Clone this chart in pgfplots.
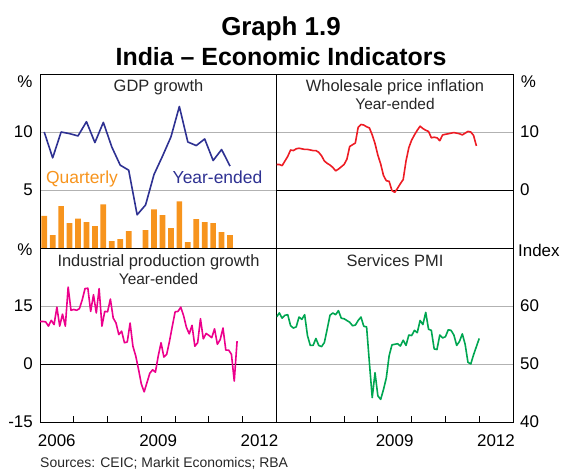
\documentclass[border=0pt]{standalone}
\usepackage{pgfplots}
\pgfplotsset{compat=1.18}
\usepackage{pgfplotstable}
\usepackage{fontspec}
\setmainfont{Liberation Sans}
\definecolor{gdpblue}{HTML}{2E3192}
\definecolor{qorange}{HTML}{F7941D}
\definecolor{wpired}{HTML}{ED1C24}
\definecolor{ipmag}{HTML}{EC008C}
\definecolor{pmigreen}{HTML}{00A651}

\pgfplotstableread{
v
4.4
4.4
4.2
5.0
5.8
6.9
6.8
7.1
7.2
7.1
7.0
7.0
6.9
6.8
6.8
6.5
5.9
5.0
4.6
4.3
3.9
3.3
3.6
4.0
4.4
5.3
7.5
7.8
8.1
10.8
11.3
11.2
10.9
10.7
9.5
8.0
6.0
4.5
2.5
1.6
1.5
-0.1
-0.4
0.3
1.1
1.8
5.0
7.3
8.6
9.5
10.3
11.0
10.6
10.3
10.1
9.0
9.1
9.0
8.5
9.5
9.6
9.7
9.8
9.9
9.8
9.7
9.5
9.8
10.1
10.0
9.4
7.6
}\wpi

\pgfplotstableread{
v
11.0
11.0
10.9
9.8
11.3
10.2
14.7
9.8
12.9
9.8
19.9
13.9
14.1
13.9
14.3
16.6
19.5
19.6
13.6
17.9
13.2
19.5
9.8
13.6
13.5
16.8
11.9
10.6
7.6
8.5
5.5
5.7
10.6
4.6
2.1
-1.4
-5.2
-7.2
-4.8
-2.4
-1.5
-2.1
2.1
5.5
1.8
2.5
5.9
9.8
13.5
13.6
14.7
12.5
9.5
7.8
10.0
4.6
5.5
11.7
6.5
7.9
7.4
6.8
9.1
5.1
6.3
9.3
3.6
3.6
2.5
-4.4
5.9
}\indprod

\pgfplotstableread{
v
58.1
58.8
57.9
58.4
58.5
56.6
56.2
56.4
58.1
57.7
58.5
54.9
53.2
53.2
54.4
53.2
53.0
53.7
56.0
58.4
58.8
58.5
59.2
57.9
57.8
57.5
57.2
56.6
56.7
57.5
58.1
56.5
56.4
50.2
44.2
48.5
44.5
43.9
45.6
47.6
51.4
53.3
53.4
53.5
53.1
54.1
53.2
55.0
54.9
55.8
55.4
57.5
56.8
58.9
56.0
55.8
52.6
52.5
55.0
54.5
54.7
55.9
55.8
55.0
53.2
53.9
55.2
53.4
50.3
50.0
51.6
53.0
54.4
}\pmi

\pgfplotsset{
  panel/.style={
    scale only axis, width=236.5bp, height=174bp,
    xmin=2006, xmax=2013,
    axis line style={black, line width=0.8bp},
    ymajorgrids, grid style={black!30, line width=0.8bp},
    tick label style={font=\fontsize{17}{17}\selectfont},
    major tick length=0pt,
    extra y tick style={grid style={black, line width=0.8bp}},
    clip=true, unbounded coords=jump,
  },
  leftlab/.style={yticklabel pos=left, yticklabel style={anchor=east, inner sep=0pt, xshift=-7bp}},
  rightlab/.style={yticklabel pos=right, yticklabel style={anchor=west, inner sep=0pt, xshift=7bp}},
  topx/.style={xtick=\empty},
  bottomx/.style={
    xtick={2007,2008,2009,2010,2011,2012,2013}, xtick pos=left,
    x tick label style={anchor=base, yshift=-24bp, xshift=-17bp},
  },
  line/.style={line width=1.6bp, line join=round},
  tickmark/.style={black, line width=0.9bp, forget plot},
}

\begin{document}
\begin{tikzpicture}
\path[use as bounding box] (0,0) rectangle (562bp,-470bp);

% Top-left: GDP growth
\begin{axis}[panel, leftlab, topx, at={(40bp,-74bp)}, anchor=north west,
  ymin=0, ymax=15, ytick={5,10}, yticklabels={5,10}]
\addplot[ybar, bar width=5.7bp, fill=qorange, draw=none] coordinates {
(2006.125,2.77) (2006.375,1.11) (2006.625,3.60) (2006.875,2.14)
(2007.125,2.54) (2007.375,2.23) (2007.625,1.89) (2007.875,3.77)
(2008.125,0.60) (2008.375,0.77) (2008.625,1.46) (2008.875,0.00)
(2009.125,1.54) (2009.375,3.34) (2009.625,2.83) (2009.875,1.71)
(2010.125,4.03) (2010.375,0.51) (2010.625,2.49) (2010.875,2.23)
(2011.125,2.14) (2011.375,1.37) (2011.625,1.11)};
\addplot[line, gdpblue] coordinates {
(2006.125,10.0) (2006.375,7.77) (2006.625,10.0) (2006.875,9.86)
(2007.125,9.66) (2007.375,10.89) (2007.625,9.09) (2007.875,10.83)
(2008.125,8.71) (2008.375,7.14) (2008.625,6.71) (2008.875,2.86)
(2009.125,3.71) (2009.375,6.34) (2009.625,7.91) (2009.875,9.57)
(2010.125,12.2) (2010.375,9.14) (2010.625,8.83) (2010.875,9.40)
(2011.125,7.54) (2011.375,8.49) (2011.625,7.06)};
\end{axis}

% Top-right: WPI
\begin{axis}[panel, rightlab, topx, at={(276.5bp,-74bp)}, anchor=north west,
  ymin=-10, ymax=20, ytick={10}, yticklabels={10},
  extra y ticks={0}, extra y tick labels={0}]
\addplot[line, wpired] table[x expr={2006+\coordindex/12}, y=v] {\wpi};
\end{axis}

% Bottom-left: Industrial production
\begin{axis}[panel, leftlab, bottomx, at={(40bp,-248bp)}, anchor=north west,
  xticklabels={2006,,,2009,,,2012},
  ymin=-15, ymax=30, ytick={-15,15}, yticklabels={-15,15},
  extra y ticks={0}, extra y tick labels={0}]
\addplot[tickmark] coordinates {
(2007,-15) (2007,-13.45) (2007,nan)
(2008,-15) (2008,-13.45) (2008,nan)
(2009,-15) (2009,-13.45) (2009,nan)
(2010,-15) (2010,-13.45) (2010,nan)
(2011,-15) (2011,-13.45) (2011,nan)
(2012,-15) (2012,-13.45)};
\addplot[line, ipmag] table[x expr={2006+\coordindex/12}, y=v] {\indprod};
\end{axis}

% Bottom-right: Services PMI
\begin{axis}[panel, rightlab, bottomx, at={(276.5bp,-248bp)}, anchor=north west,
  xticklabels={,,,2009,,,2012},
  ymin=40, ymax=70, ytick={40,50,60}, yticklabels={40,50,60}]
\addplot[tickmark] coordinates {
(2007,40) (2007,41.03) (2007,nan)
(2008,40) (2008,41.03) (2008,nan)
(2009,40) (2009,41.03) (2009,nan)
(2010,40) (2010,41.03) (2010,nan)
(2011,40) (2011,41.03) (2011,nan)
(2012,40) (2012,41.03)};
\addplot[line, pmigreen] table[x expr={2006+\coordindex/12}, y=v] {\pmi};
\end{axis}

% Titles
\node[anchor=base, font=\fontsize{26}{26}\selectfont\bfseries] at (281bp,-35bp) {Graph 1.9};
\node[anchor=base, font=\fontsize{25}{25}\selectfont\bfseries] at (281bp,-65bp) {India – Economic Indicators};

% Panel titles
\node[anchor=base, font=\fontsize{16.5}{16.5}\selectfont, text=black!85] at (158.5bp,-91.7bp) {GDP growth};
\node[anchor=base, font=\fontsize{16.5}{16.5}\selectfont, text=black!85] at (395bp,-91.7bp) {Wholesale price inflation};
\node[anchor=base, font=\fontsize{15.5}{15.5}\selectfont, text=black!85] at (395bp,-109.3bp) {Year-ended};
\node[anchor=base, font=\fontsize{16.5}{16.5}\selectfont, text=black!85] at (158.5bp,-266bp) {Industrial production growth};
\node[anchor=base, font=\fontsize{15.5}{15.5}\selectfont, text=black!85] at (158.5bp,-284.3bp) {Year-ended};
\node[anchor=base, font=\fontsize{16.5}{16.5}\selectfont, text=black!85] at (395bp,-266bp) {Services PMI};

% Series labels
\node[anchor=base, font=\fontsize{17.5}{17.5}\selectfont, text=qorange] at (82bp,-183bp) {Quarterly};
\node[anchor=base, font=\fontsize{17.5}{17.5}\selectfont, text=gdpblue] at (217.5bp,-183bp) {Year-ended};

% Units
\node[font=\fontsize{17}{17}\selectfont] at (25bp,-82bp) {\%};
\node[font=\fontsize{17}{17}\selectfont] at (528.5bp,-82bp) {\%};
\node[font=\fontsize{17}{17}\selectfont] at (25bp,-250bp) {\%};
\node[anchor=west, inner sep=0pt, font=\fontsize{17}{17}\selectfont] at (518bp,-250bp) {Index};

% Sources
\node[anchor=base west, inner sep=0pt, font=\fontsize{14}{14}\selectfont, text=black!85] at (40bp,-467bp) {Sources: CEIC; Markit Economics; RBA};
\end{tikzpicture}
\end{document}
